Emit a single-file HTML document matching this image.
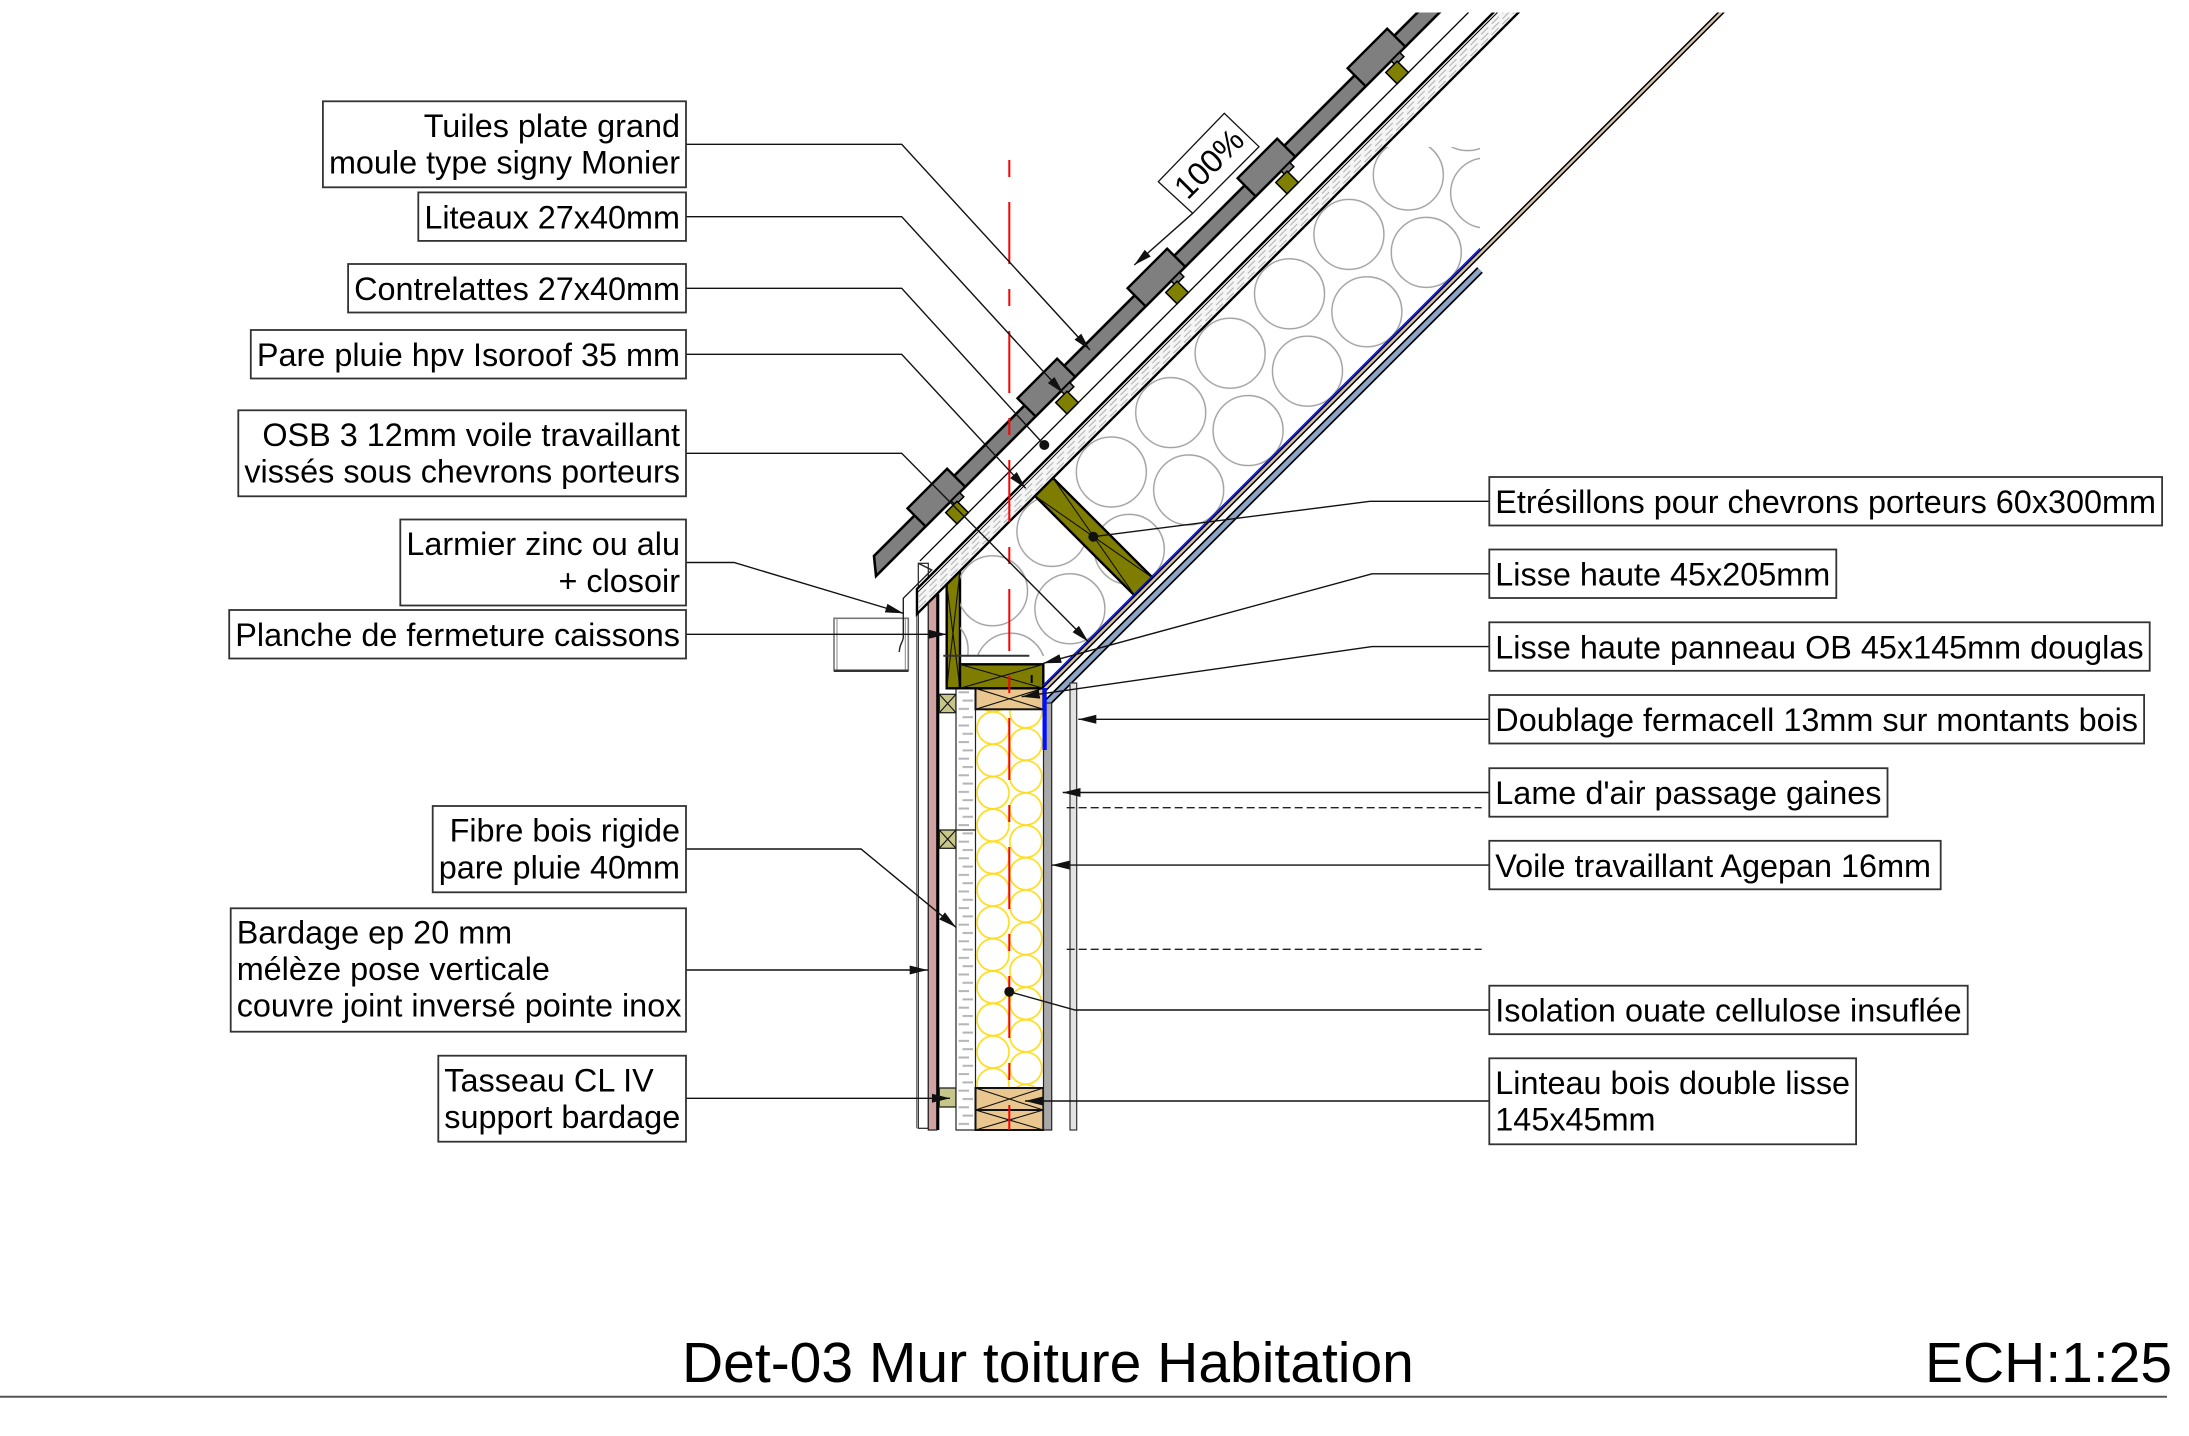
<!DOCTYPE html>
<html><head><meta charset="utf-8">
<style>
html,body{margin:0;padding:0;background:#fff;overflow:hidden}
svg{display:block}
text{font-family:"Liberation Sans",Arial,sans-serif;fill:#000}
.lb{font-size:32.4px}
.bx{fill:#fff;stroke:#333;stroke-width:1.8}
.ld{fill:none;stroke:#111;stroke-width:1.4}
.x{stroke:#111;stroke-width:1.1}
</style></head>
<body>
<svg xmlns="http://www.w3.org/2000/svg" width="2189" height="1436" viewBox="0 0 2189 1436">
<defs>
  <marker id="a" viewBox="0 0 18 10" refX="18" refY="5" markerWidth="18" markerHeight="10" markerUnits="userSpaceOnUse" orient="auto">
    <path d="M0,0.5 L18,5 L0,9.5 Z" fill="#111"/>
  </marker>
  <clipPath id="ct"><rect x="0" y="12.5" width="2189" height="1424"/></clipPath>
  <clipPath id="ci"><polygon points="960,571 1384,147 1480,147 1480,251 1075,656 960,656"/></clipPath>
  <pattern id="pr" patternUnits="userSpaceOnUse" width="141.4" height="84" patternTransform="translate(1100,431) rotate(45)">
    <g fill="none" stroke="#a0a0a0" stroke-width="1.4">
      <circle cx="37" cy="21" r="35"/>
      <circle cx="37" cy="105" r="35"/>
      <circle cx="104.4" cy="63" r="35"/>
      <circle cx="104.4" cy="-21" r="35"/>
    </g>
  </pattern>
  <pattern id="pw" patternUnits="userSpaceOnUse" x="975.5" y="711.8" width="67.8" height="32.4">
    <g fill="none" stroke="#ffdc1e" stroke-width="1.7">
      <circle cx="17.5" cy="16.2" r="16"/>
      <circle cx="50.3" cy="32.4" r="16"/>
      <circle cx="50.3" cy="0" r="16"/>
    </g>
  </pattern>
  <pattern id="pf" patternUnits="userSpaceOnUse" x="956" y="688.3" width="19.5" height="16.6">
    <rect width="19.5" height="16.6" fill="#fff"/>
    <line x1="2.5" y1="4" x2="13" y2="4" stroke="#b5b5b5" stroke-width="2"/>
    <line x1="6.5" y1="12.3" x2="17" y2="12.3" stroke="#b5b5b5" stroke-width="2"/>
  </pattern>
</defs>

<!-- ===== WALL (left part) ===== -->
<rect x="918.3" y="563.3" width="10" height="565" fill="#fff" stroke="#222" stroke-width="1.2"/>
<line x1="916.7" y1="598" x2="916.7" y2="1128.3" stroke="#555" stroke-width="1"/>
<polygon points="928.3,602.7 936.7,594.3 936.7,1130 928.3,1130" fill="#d2a2a2" stroke="#222" stroke-width="1.2"/>
<line x1="938" y1="594" x2="938" y2="1130" stroke="#000" stroke-width="2.6"/>

<!-- tasseaux -->
<rect x="939.3" y="694.3" width="16.7" height="18.4" fill="#c6c68a" stroke="#222" stroke-width="1.3"/>
<line class="x" x1="939.3" y1="694.3" x2="956" y2="712.7"/><line class="x" x1="956" y1="694.3" x2="939.3" y2="712.7"/>
<rect x="939.3" y="830" width="16.7" height="18.3" fill="#c6c68a" stroke="#222" stroke-width="1.3"/>
<line class="x" x1="939.3" y1="830" x2="956" y2="848.3"/><line class="x" x1="956" y1="830" x2="939.3" y2="848.3"/>
<rect x="939.3" y="1088" width="16.7" height="19" fill="#c6c68a" stroke="#222" stroke-width="1.3"/>

<!-- fibre bois -->
<rect x="956" y="688.3" width="19.5" height="441.7" fill="url(#pf)" stroke="#222" stroke-width="1.2"/>
<line x1="956" y1="830" x2="975.5" y2="830" stroke="#222" stroke-width="1.2"/>

<!-- isolation ouate -->
<rect x="975.5" y="709.3" width="67.8" height="378.7" fill="url(#pw)"/>

<!-- lisse haute panneau (tan) -->
<rect x="975.5" y="688.3" width="67.8" height="21" fill="#e9c78f" stroke="#111" stroke-width="2"/>
<line class="x" x1="975.5" y1="688.3" x2="1043.3" y2="709.3"/><line class="x" x1="1043.3" y1="688.3" x2="975.5" y2="709.3"/>

<!-- linteau -->
<rect x="975.5" y="1088" width="67.8" height="22" fill="#e9c78f" stroke="#111" stroke-width="2"/>
<line class="x" x1="975.5" y1="1088" x2="1043.3" y2="1110"/><line class="x" x1="1043.3" y1="1088" x2="975.5" y2="1110"/>
<rect x="975.5" y="1110" width="67.8" height="20" fill="#e9c78f" stroke="#111" stroke-width="2"/>
<line class="x" x1="975.5" y1="1110" x2="1043.3" y2="1130"/><line class="x" x1="1043.3" y1="1110" x2="975.5" y2="1130"/>

<!-- olive post + lisse haute -->
<polygon points="946.7,584.3 960,571 960,688.3 946.7,688.3" fill="#7f7d00" stroke="#000" stroke-width="2.4"/>
<line class="x" x1="946.7" y1="584.3" x2="960" y2="688.3"/><line class="x" x1="960" y1="571" x2="946.7" y2="688.3"/>
<rect x="960" y="664.3" width="83.3" height="24" fill="#7f7d00" stroke="#000" stroke-width="2.4"/>
<line class="x" x1="960" y1="664.3" x2="1043.3" y2="688.3"/><line class="x" x1="1043.3" y1="664.3" x2="960" y2="688.3"/>
<line x1="1031.7" y1="675" x2="1031.7" y2="683" stroke="#000" stroke-width="2"/>

<!-- ===== ROOF ===== -->
<rect x="955" y="40" width="530" height="620" fill="url(#pr)" clip-path="url(#ci)"/>

<g clip-path="url(#ct)">
  <g transform="translate(1000,430) rotate(-45)">
    <!-- tile band -->
    <polygon points="-190.9,15.6 -178.2,0 800,0 800,15.6" fill="#7f7f7f" stroke="#000" stroke-width="2.6"/>
    <!-- steps -->
    <g fill="#7f7f7f" stroke="#000" stroke-width="2.4">
      <rect x="-120.8" y="-10" width="56" height="25.6"/>
      <rect x="34.8" y="-10" width="56" height="25.6"/>
      <rect x="190.4" y="-10" width="56" height="25.6"/>
      <rect x="346" y="-10" width="56" height="25.6"/>
      <rect x="501.6" y="-10" width="56" height="25.6"/>
    </g>
    <!-- nibs -->
    <g fill="#7f7f7f" stroke="#000" stroke-width="1.5">
      <rect x="-84.8" y="15.6" width="12" height="6"/>
      <rect x="70.8" y="15.6" width="12" height="6"/>
      <rect x="226.4" y="15.6" width="12" height="6"/>
      <rect x="382" y="15.6" width="12" height="6"/>
      <rect x="537.6" y="15.6" width="12" height="6"/>
    </g>
    <!-- liteaux -->
    <g fill="#7f7f00" stroke="#000" stroke-width="1.5">
      <rect x="-96.8" y="20" width="16" height="16"/>
      <rect x="58.8" y="20" width="16" height="16"/>
      <rect x="214.4" y="20" width="16" height="16"/>
      <rect x="370" y="20" width="16" height="16"/>
      <rect x="525.6" y="20" width="16" height="16"/>
    </g>
    <!-- contrelatte line -->
    <line x1="-149.2" y1="36" x2="800" y2="36" stroke="#000" stroke-width="1.3"/>
    <!-- pare pluie board -->
    <polygon points="-188.8,71.4 -171.1,53.7 800,53.7 800,71.4" fill="#f5f5f5" stroke="#000" stroke-width="2.4"/>
    <line x1="-173.9" y1="56.5" x2="800" y2="56.5" stroke="#000" stroke-width="1"/>
    <g stroke="#b0b0b0" stroke-width="1" stroke-dasharray="10 5">
      <line x1="-175" y1="60.5" x2="800" y2="60.5"/>
      <line x1="-179" y1="64.5" x2="800" y2="64.5"/>
      <line x1="-183" y1="68.3" x2="800" y2="68.3"/>
    </g>
    <!-- etresillon -->
    <rect x="-21.9" y="71.4" width="25.4" height="141.4" fill="#7f7d00" stroke="#000" stroke-width="2.4"/>
    <line class="x" x1="-21.9" y1="71.4" x2="3.5" y2="212.8"/><line class="x" x1="3.5" y1="71.4" x2="-21.9" y2="212.8"/>
  </g>
  <!-- OSB -->
  <line x1="1043.5" y1="690" x2="1740" y2="-6.5" stroke="#000" stroke-width="5.5"/>
  <line x1="1043.5" y1="690" x2="1740" y2="-6.5" stroke="#d9c7ad" stroke-width="2.4"/>
</g>
<!-- blue vapour line -->
<line x1="1480" y1="248.5" x2="1043" y2="685.5" stroke="#0010ff" stroke-width="1.4"/>
<!-- roof fermacell -->
<line x1="1480" y1="270" x2="1046" y2="704" stroke="#000" stroke-width="8"/>
<line x1="1480" y1="270" x2="1046" y2="704" stroke="#8ea5c6" stroke-width="4.6"/>

<!-- wall right layers -->
<rect x="1043.5" y="703" width="8.2" height="427" fill="#a9a9a9" stroke="#222" stroke-width="1.2"/>
<rect x="1042.5" y="688" width="4.2" height="62" fill="#0010ff"/>
<rect x="1070" y="683" width="6.7" height="447" fill="#e2e2e2" stroke="#333" stroke-width="1.2"/>

<!-- ceiling line -->
<line x1="943.3" y1="655.7" x2="1029.3" y2="655.7" stroke="#333" stroke-width="2"/>

<!-- gutter box -->
<rect x="834" y="618.3" width="74.3" height="52.4" fill="none" stroke="#777" stroke-width="1.6"/>
<line x1="837" y1="618.3" x2="837" y2="670.7" stroke="#888" stroke-width="1"/>
<line x1="905.3" y1="618.3" x2="905.3" y2="670.7" stroke="#888" stroke-width="1"/>
<line x1="834" y1="670.7" x2="908.3" y2="670.7" stroke="#333" stroke-width="2.5"/>
<!-- larmier -->
<path d="M918.3,563.3 L931.7,570 L903.3,598.3 V637 C903.3,642 899.3,644 899.3,652" fill="none" stroke="#222" stroke-width="1.4"/>

<!-- red axis -->
<line x1="1009.3" y1="146" x2="1009.3" y2="1130" stroke="#ff0000" stroke-width="2" stroke-dasharray="62 25 17 25" stroke-dashoffset="73"/>

<!-- dashed lines -->
<g stroke="#222" stroke-width="1.3" stroke-dasharray="8 4">
  <line x1="1066.7" y1="807.7" x2="1481.7" y2="807.7"/>
  <line x1="1066.7" y1="949.3" x2="1481.7" y2="949.3"/>
</g>

<!-- 100% -->
<polygon points="1158.3,181.7 1224.3,113.3 1259,146.7 1192.7,213.3" fill="#fff" stroke="#111" stroke-width="1.3"/>
<text class="lb" text-anchor="middle" transform="translate(1208.7,163.3) rotate(-45)" x="0" y="11.5">100%</text>
<path class="ld" d="M1192.7,213.3 L1134.3,265" marker-end="url(#a)"/>

<!-- ===== LEADERS ===== -->
<path class="ld" d="M686,144.3 H901.7 L1090,350" marker-end="url(#a)"/>
<path class="ld" d="M686,216.7 H901.7 L1063.3,393.3" marker-end="url(#a)"/>
<path class="ld" d="M686,288.3 H901.7 L1044.3,445"/>
<circle cx="1044.3" cy="445" r="5" fill="#111"/>
<path class="ld" d="M686,354.3 H901.7 L1025.7,488.3" marker-end="url(#a)"/>
<path class="ld" d="M686,453.3 H901.7 L1088.3,641.7" marker-end="url(#a)"/>
<path class="ld" d="M686,562.5 H734 L903.3,613.3" marker-end="url(#a)"/>
<path class="ld" d="M686,634.3 H946.7" marker-end="url(#a)"/>
<path class="ld" d="M686,849 H861 L956,927.3" marker-end="url(#a)"/>
<path class="ld" d="M686,970 H927.7" marker-end="url(#a)"/>
<path class="ld" d="M686,1098.3 H950" marker-end="url(#a)"/>

<path class="ld" d="M1489.3,501.3 H1370 L1093.3,536.7"/>
<circle cx="1093.3" cy="536.7" r="5" fill="#111"/>
<path class="ld" d="M1489.3,573.8 H1372 L1043.3,663.3" marker-end="url(#a)"/>
<path class="ld" d="M1489.3,646.6 H1372 L1021.7,696.7" marker-end="url(#a)"/>
<path class="ld" d="M1489.3,719.3 H1078.3" marker-end="url(#a)"/>
<path class="ld" d="M1489.3,792.5 H1062.7" marker-end="url(#a)"/>
<path class="ld" d="M1489.3,865.1 H1051.7" marker-end="url(#a)"/>
<path class="ld" d="M1489.3,1010 H1075 L1009.3,991.7"/>
<circle cx="1009.3" cy="991.7" r="5" fill="#111"/>
<path class="ld" d="M1489.3,1101 H1025" marker-end="url(#a)"/>

<!-- ===== LEFT BOXES ===== -->
<rect class="bx" x="322.9" y="101.3" width="363.1" height="86"/>
<text class="lb" x="680" y="137" text-anchor="end">Tuiles plate grand</text>
<text class="lb" x="680" y="173.6" text-anchor="end">moule type signy Monier</text>

<rect class="bx" x="418.3" y="192.4" width="267.7" height="48.5"/>
<text class="lb" x="680" y="228.4" text-anchor="end">Liteaux 27x40mm</text>

<rect class="bx" x="348.1" y="264" width="337.9" height="48.5"/>
<text class="lb" x="680" y="300" text-anchor="end">Contrelattes 27x40mm</text>

<rect class="bx" x="250.8" y="330" width="435.2" height="48.5"/>
<text class="lb" x="680" y="366" text-anchor="end">Pare pluie hpv Isoroof 35 mm</text>

<rect class="bx" x="238.3" y="410.3" width="447.7" height="86"/>
<text class="lb" x="680" y="446" text-anchor="end">OSB 3 12mm voile travaillant</text>
<text class="lb" x="680" y="482.6" text-anchor="end">vissés sous chevrons porteurs</text>

<rect class="bx" x="400.3" y="519.5" width="285.7" height="86"/>
<text class="lb" x="680" y="555.2" text-anchor="end">Larmier zinc ou alu</text>
<text class="lb" x="680" y="591.8" text-anchor="end">+ closoir</text>

<rect class="bx" x="229.2" y="610" width="456.8" height="48.5"/>
<text class="lb" x="680" y="646" text-anchor="end">Planche de fermeture caissons</text>

<rect class="bx" x="432.7" y="806" width="253.3" height="86.3"/>
<text class="lb" x="680" y="841.7" text-anchor="end">Fibre bois rigide</text>
<text class="lb" x="680" y="878.3" text-anchor="end">pare pluie 40mm</text>

<rect class="bx" x="230.7" y="908.3" width="455.3" height="123.4"/>
<text class="lb" x="236.7" y="943.3">Bardage ep 20 mm</text>
<text class="lb" x="236.7" y="980">mélèze pose verticale</text>
<text class="lb" x="236.7" y="1016.7">couvre joint inversé pointe inox</text>

<rect class="bx" x="438.3" y="1055.7" width="247.7" height="86"/>
<text class="lb" x="444.3" y="1091.4">Tasseau CL IV</text>
<text class="lb" x="444.3" y="1128">support bardage</text>

<!-- ===== RIGHT BOXES ===== -->
<rect class="bx" x="1489.3" y="477" width="672.8" height="48.5"/>
<text class="lb" x="1495.3" y="513">Etrésillons pour chevrons porteurs 60x300mm</text>

<rect class="bx" x="1489.3" y="549.5" width="347" height="48.5"/>
<text class="lb" x="1495.3" y="585.5">Lisse haute 45x205mm</text>

<rect class="bx" x="1489.3" y="622.3" width="660.4" height="48.5"/>
<text class="lb" x="1495.3" y="658.3">Lisse haute panneau OB 45x145mm douglas</text>

<rect class="bx" x="1489.3" y="695" width="654.8" height="48.5"/>
<text class="lb" x="1495.3" y="731">Doublage fermacell 13mm sur montants bois</text>

<rect class="bx" x="1489.3" y="768.2" width="398.2" height="48.5"/>
<text class="lb" x="1495.3" y="804.2">Lame d'air passage gaines</text>

<rect class="bx" x="1489.3" y="840.8" width="451.4" height="48.5"/>
<text class="lb" x="1495.3" y="876.8">Voile travaillant Agepan 16mm</text>

<rect class="bx" x="1489.3" y="985.7" width="478.4" height="48.5"/>
<text class="lb" x="1495.3" y="1021.7">Isolation ouate cellulose insuflée</text>

<rect class="bx" x="1489.3" y="1058.3" width="366.8" height="86"/>
<text class="lb" x="1495.3" y="1094">Linteau bois double lisse</text>
<text class="lb" x="1495.3" y="1130.6">145x45mm</text>

<!-- ===== TITLE ===== -->
<text x="682" y="1382" font-size="57">Det-03 Mur toiture Habitation</text>
<text x="1925" y="1382" font-size="57">ECH:1:25</text>
<line x1="0" y1="1396.7" x2="2167" y2="1396.7" stroke="#555" stroke-width="2"/>
</svg>
</body></html>
